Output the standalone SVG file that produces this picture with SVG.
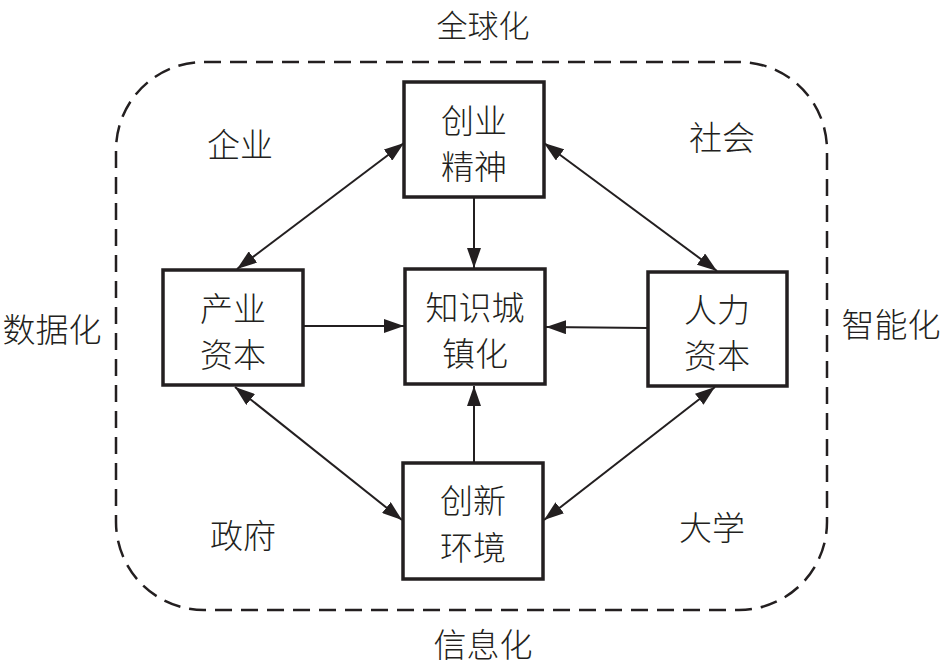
<svg xmlns="http://www.w3.org/2000/svg" width="945" height="667" viewBox="0 0 945 667">
<style>
.box{fill:#fff;stroke:#231f20;stroke-width:3.5}
.t{font-family:"Noto Sans CJK SC","Noto Sans",sans-serif;font-size:33px;fill:#231f20;text-anchor:middle;font-weight:300}
.c{stroke:#231f20;stroke-width:2;fill:none}
.frame{fill:none;stroke:#231f20;stroke-width:2.5;stroke-dasharray:17 9}
</style>
<defs>
<marker id="a" viewBox="0 0 20 14" refX="20" refY="7" markerWidth="20" markerHeight="14" markerUnits="userSpaceOnUse" orient="auto-start-reverse">
<path d="M0,0 L20,7 L0,14 z" fill="#231f20"/>
</marker>
</defs>
<rect class="frame" x="116" y="62" width="711" height="548" rx="88" ry="88"/>
<g id="labels">
<text class="t" x="483" y="37" style="font-size:31px">全球化</text>
<text class="t" x="483" y="657">信息化</text>
<text class="t" x="52" y="342">数据化</text>
<text class="t" x="891" y="337">智能化</text>
<text class="t" x="240" y="157">企业</text>
<text class="t" x="722" y="150">社会</text>
<text class="t" x="243" y="548">政府</text>
<text class="t" x="712" y="540">大学</text>
</g>
<g id="connectors">
<line class="c" x1="404" y1="143" x2="237" y2="269" marker-start="url(#a)" marker-end="url(#a)"/>
<line class="c" x1="544" y1="143" x2="717" y2="271" marker-start="url(#a)" marker-end="url(#a)"/>
<line class="c" x1="474" y1="197" x2="474" y2="268" marker-end="url(#a)"/>
<line class="c" x1="303" y1="326" x2="404" y2="326" marker-end="url(#a)"/>
<line class="c" x1="648" y1="328" x2="546" y2="327" marker-end="url(#a)"/>
<line class="c" x1="474" y1="463" x2="474" y2="386" marker-end="url(#a)"/>
<line class="c" x1="235" y1="387" x2="402" y2="520" marker-start="url(#a)" marker-end="url(#a)"/>
<line class="c" x1="715" y1="387" x2="544" y2="520" marker-start="url(#a)" marker-end="url(#a)"/>
</g>
<g id="n1">
<rect class="box" x="404" y="82" width="140" height="115"/>
<text class="t" x="474" y="133">创业</text>
<text class="t" x="474" y="179">精神</text>
</g>
<g id="n2">
<rect class="box" x="163" y="270" width="140" height="115"/>
<text class="t" x="233" y="321">产业</text>
<text class="t" x="233" y="367">资本</text>
</g>
<g id="n3">
<rect class="box" x="405" y="269" width="140" height="115"/>
<text class="t" x="475" y="320">知识城</text>
<text class="t" x="475" y="366">镇化</text>
</g>
<g id="n4">
<rect class="box" x="648" y="272" width="139" height="114"/>
<text class="t" x="717" y="322">人力</text>
<text class="t" x="717" y="368">资本</text>
</g>
<g id="n5">
<rect class="box" x="403" y="463" width="140" height="116"/>
<text class="t" x="473" y="513">创新</text>
<text class="t" x="473" y="560">环境</text>
</g>
</svg>
